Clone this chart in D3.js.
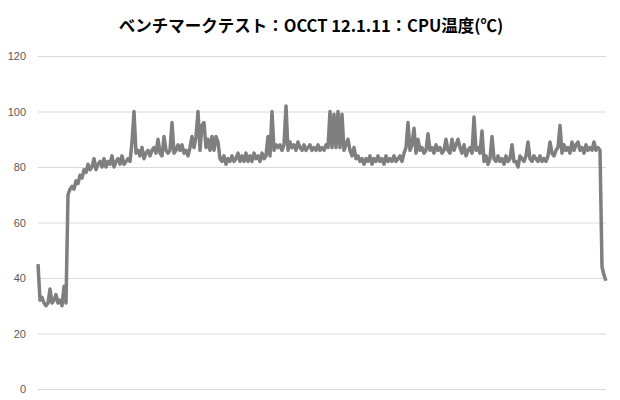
<!DOCTYPE html>
<html>
<head>
<meta charset="utf-8">
<script src="https://cdn.jsdelivr.net/npm/d3@7"></script>
<style>
  body { margin: 0; background: #fff; }
  svg { display: block; }
</style>
</head>
<body>
<div id="chart"></div>
<script>
const title = 'ベンチマークテスト：OCCT 12.1.11：CPU温度(℃)'
const yTicks = [0, 20, 40, 60, 80, 100, 120]

// CPU temperature samples (one value every ~2px)
const temps = [
  45, 32, 33, 31, 30, 31, 36, 31, 32, 34,
  31, 32, 30, 37, 31, 70, 72, 73, 72, 75,
  74, 77, 76, 79, 78, 81, 79, 80, 83, 79,
  81, 82, 80, 83, 80, 82, 81, 84, 80, 82,
  83, 81, 84, 81, 82, 83, 82, 89, 100, 85,
  86, 84, 87, 83, 85, 86, 84, 86, 87, 85,
  90, 85, 84, 91, 86, 85, 86, 96, 85, 86,
  88, 86, 88, 85, 86, 84, 87, 91, 87, 91,
  100, 86, 95, 96, 87, 90, 86, 91, 86, 91,
  89, 83, 82, 84, 81, 83, 82, 84, 82, 83,
  85, 82, 84, 82, 85, 82, 84, 82, 85, 83,
  84, 82, 85, 83, 84, 91, 84, 100, 86, 88,
  87, 88, 86, 88, 102, 86, 89, 87, 88, 86,
  89, 87, 86, 88, 86, 87, 88, 86, 87, 86,
  88, 86, 87, 86, 88, 87, 100, 87, 99, 87,
  100, 87, 99, 86, 88, 90, 86, 84, 87, 83,
  84, 82, 83, 81, 83, 82, 84, 81, 83, 82,
  84, 82, 83, 81, 84, 82, 83, 82, 84, 82,
  83, 84, 82, 85, 87, 96, 86, 88, 94, 85,
  90, 86, 87, 85, 86, 92, 86, 87, 85, 88,
  86, 87, 85, 86, 90, 86, 85, 90, 86, 88,
  90, 87, 85, 88, 84, 86, 87, 85, 98, 86,
  87, 85, 93, 82, 84, 81, 83, 91, 83, 82,
  84, 82, 83, 81, 84, 82, 83, 88, 82, 82,
  80, 84, 83, 82, 84, 89, 83, 82, 84, 83,
  82, 84, 82, 83, 82, 84, 89, 85, 84, 86,
  87, 95, 85, 88, 86, 87, 85, 89, 86, 88,
  89, 86, 87, 85, 88, 86, 87, 86, 89, 86,
  87, 86, 44, 41, 39,
]

const width = 620
const height = 400

const svg = d3.select('#chart')
  .append('svg')
  .attr('width', width)
  .attr('height', height)

const x = d3.scaleLinear()
  .domain([0, temps.length - 1])
  .range([38, 606])

const y = d3.scaleLinear()
  .domain([0, 120])
  .range([389, 56])

// title
svg.append('text')
  .attr('x', 311)
  .attr('y', 32)
  .attr('text-anchor', 'middle')
  .style('font-family', '"Noto Sans CJK JP", "Noto Sans", sans-serif')
  .style('font-weight', 'bold')
  .style('font-size', '16.5px')
  .style('fill', '#000')
  .text(title)

// gridlines + tick labels
const yAxis = d3.axisLeft(y)
  .tickValues(yTicks)
  .tickSize(-(606 - 38))
  .tickPadding(12)

const gy = svg.append('g')
  .attr('transform', 'translate(38,0)')
  .call(yAxis)

gy.select('.domain').remove()
gy.selectAll('.tick line')
  .style('stroke', '#d9d9d9')
  .style('stroke-width', 1)
gy.selectAll('.tick text')
  .style('font-family', '"Liberation Sans", "DejaVu Sans", sans-serif')
  .style('font-size', '11px')
  .style('fill', '#595959')

const line = d3.line()
  .x((d, i) => x(i))
  .y((d) => y(d))

svg.append('path')
  .datum(temps)
  .attr('d', line)
  .style('fill', 'none')
  .style('stroke', '#7f7f7f')
  .style('stroke-width', 3.5)
  .style('stroke-linejoin', 'round')
</script>
</body>
</html>
